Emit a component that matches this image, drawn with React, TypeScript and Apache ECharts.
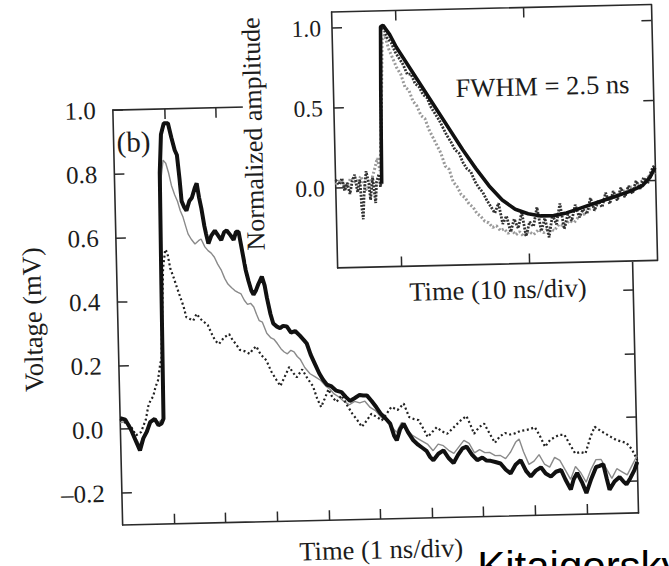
import React, { useEffect, useRef } from "react";
import * as echarts from "echarts";

// ---------- data ----------
// main panel: x in divisions (1 ns/div), y in mV
const mainXTicks = [1, 2, 3, 4, 5, 6, 7, 8, 9];
const mainYTicks = [-0.2, 0, 0.2, 0.4, 0.6, 0.8, 1.0];

const thickTrace: [number, number][] = [
  [0, 0.035], [0.1, 0.03], [0.2, 0.0], [0.3, -0.04], [0.37, -0.068], [0.44, -0.03], [0.51, -0.01], [0.58, 0.02],
  [0.67, 0.03], [0.74, 0.01], [0.8, 0.015], [0.84, 0.03], [0.86, 0.45], [0.88, 0.8], [0.92, 0.92], [0.98, 0.955],
  [1.06, 0.955], [1.12, 0.91], [1.18, 0.87], [1.22, 0.855], [1.26, 0.78], [1.29, 0.71], [1.34, 0.69], [1.38, 0.68],
  [1.44, 0.71], [1.49, 0.72], [1.55, 0.75], [1.59, 0.765], [1.63, 0.72], [1.67, 0.685], [1.72, 0.63], [1.75, 0.605],
  [1.79, 0.575], [1.85, 0.6], [1.92, 0.615], [1.98, 0.6], [2.04, 0.585], [2.1, 0.61], [2.15, 0.615], [2.22, 0.6],
  [2.28, 0.585], [2.33, 0.61], [2.38, 0.61], [2.44, 0.55], [2.5, 0.49], [2.55, 0.455], [2.6, 0.425], [2.64, 0.412],
  [2.69, 0.425], [2.74, 0.445], [2.81, 0.468], [2.86, 0.44], [2.9, 0.4], [2.96, 0.35], [3.01, 0.32], [3.08, 0.31],
  [3.14, 0.305], [3.2, 0.312], [3.27, 0.31], [3.35, 0.29], [3.43, 0.295], [3.52, 0.28], [3.6, 0.265], [3.65, 0.255],
  [3.72, 0.22], [3.8, 0.19], [3.88, 0.16], [3.95, 0.14], [4.02, 0.125], [4.1, 0.12], [4.2, 0.105], [4.3, 0.1],
  [4.38, 0.085], [4.46, 0.072], [4.55, 0.08], [4.65, 0.09], [4.72, 0.088], [4.79, 0.088], [4.88, 0.07], [4.97, 0.05],
  [5.05, 0.03], [5.14, 0.015], [5.23, -0.002], [5.3, -0.04], [5.35, -0.055], [5.42, -0.02], [5.49, -0.003], [5.57, -0.03],
  [5.67, -0.056], [5.76, -0.07], [5.84, -0.08], [5.92, -0.09], [5.99, -0.11], [6.05, -0.12], [6.15, -0.1], [6.25, -0.09],
  [6.35, -0.115], [6.44, -0.13], [6.53, -0.105], [6.62, -0.085], [6.7, -0.08], [6.8, -0.105], [6.9, -0.123], [7.0, -0.115],
  [7.08, -0.125], [7.16, -0.126], [7.25, -0.13], [7.35, -0.135], [7.45, -0.155], [7.54, -0.167], [7.64, -0.14], [7.74, -0.126],
  [7.84, -0.16], [7.93, -0.178], [8.03, -0.16], [8.13, -0.15], [8.22, -0.17], [8.32, -0.18], [8.42, -0.165], [8.52, -0.16],
  [8.6, -0.19], [8.7, -0.222], [8.76, -0.19], [8.83, -0.17], [8.92, -0.2], [9.0, -0.234], [9.1, -0.19], [9.2, -0.153],
  [9.27, -0.15], [9.34, -0.145], [9.4, -0.19], [9.45, -0.225], [9.55, -0.2], [9.65, -0.186], [9.72, -0.2], [9.78, -0.21],
  [9.86, -0.19], [9.94, -0.166], [10, -0.14],
];

const grayTrace: [number, number][] = [
  [0, 0.02], [0.1, 0.025], [0.2, 0.0], [0.3, -0.03], [0.37, -0.05], [0.45, -0.02], [0.55, 0.01], [0.65, 0.03],
  [0.75, 0.02], [0.83, 0.03], [0.86, 0.5], [0.9, 0.78], [0.95, 0.84], [1.0, 0.83], [1.05, 0.8], [1.1, 0.76],
  [1.16, 0.73], [1.21, 0.71], [1.26, 0.68], [1.31, 0.66], [1.36, 0.63], [1.4, 0.607], [1.46, 0.59], [1.53, 0.575],
  [1.6, 0.585], [1.65, 0.59], [1.72, 0.565], [1.78, 0.553], [1.84, 0.545], [1.9, 0.532], [1.96, 0.51], [2.03, 0.49],
  [2.09, 0.465], [2.15, 0.447], [2.22, 0.435], [2.28, 0.426], [2.34, 0.42], [2.4, 0.415], [2.46, 0.395], [2.52, 0.382],
  [2.58, 0.385], [2.64, 0.373], [2.69, 0.35], [2.74, 0.33], [2.8, 0.325], [2.88, 0.29], [2.96, 0.275], [3.02, 0.27],
  [3.08, 0.257], [3.15, 0.24], [3.21, 0.23], [3.27, 0.224], [3.34, 0.235], [3.4, 0.23], [3.46, 0.215], [3.52, 0.205],
  [3.6, 0.18], [3.7, 0.16], [3.8, 0.15], [3.9, 0.139], [4.0, 0.12], [4.08, 0.11], [4.15, 0.096], [4.25, 0.085],
  [4.35, 0.07], [4.45, 0.06], [4.55, 0.07], [4.65, 0.065], [4.75, 0.07], [4.85, 0.05], [4.95, 0.04], [5.05, 0.02],
  [5.15, 0.01], [5.25, -0.01], [5.35, -0.03], [5.45, 0.0], [5.55, -0.02], [5.65, -0.04], [5.75, -0.05], [5.85, -0.06],
  [5.95, -0.07], [6.05, -0.09], [6.15, -0.07], [6.25, -0.075], [6.35, -0.09], [6.45, -0.1], [6.55, -0.08], [6.65, -0.06],
  [6.75, -0.07], [6.85, -0.1], [6.95, -0.09], [7.05, -0.1], [7.15, -0.1], [7.25, -0.11], [7.35, -0.11], [7.45, -0.12],
  [7.55, -0.1], [7.65, -0.07], [7.72, -0.06], [7.8, -0.1], [7.9, -0.14], [8.0, -0.13], [8.1, -0.11], [8.2, -0.14],
  [8.3, -0.15], [8.4, -0.12], [8.5, -0.13], [8.6, -0.16], [8.7, -0.19], [8.8, -0.15], [8.9, -0.17], [9.0, -0.2],
  [9.1, -0.16], [9.2, -0.13], [9.3, -0.13], [9.4, -0.16], [9.5, -0.19], [9.6, -0.16], [9.7, -0.17], [9.8, -0.18],
  [9.9, -0.15], [10, -0.12],
];

const dottedTrace: [number, number][] = [
  [0, 0.03], [0.1, 0.02], [0.2, 0.01], [0.3, -0.02], [0.4, -0.01], [0.5, 0.03], [0.55, 0.07], [0.6, 0.09],
  [0.65, 0.1], [0.7, 0.13], [0.75, 0.15], [0.8, 0.2], [0.83, 0.22], [0.86, 0.35], [0.9, 0.5], [0.95, 0.56],
  [0.99, 0.55], [1.04, 0.5], [1.1, 0.472], [1.16, 0.44], [1.22, 0.41], [1.28, 0.38], [1.33, 0.346], [1.4, 0.34],
  [1.46, 0.335], [1.53, 0.356], [1.6, 0.34], [1.67, 0.33], [1.74, 0.32], [1.82, 0.29], [1.88, 0.27], [1.95, 0.26],
  [2.05, 0.28], [2.15, 0.29], [2.22, 0.27], [2.28, 0.258], [2.35, 0.24], [2.45, 0.235], [2.54, 0.227], [2.6, 0.24],
  [2.67, 0.25], [2.75, 0.225], [2.86, 0.205], [2.95, 0.17], [3.05, 0.142], [3.12, 0.124], [3.2, 0.15], [3.3, 0.183],
  [3.37, 0.165], [3.44, 0.15], [3.55, 0.174], [3.65, 0.145], [3.75, 0.121], [3.83, 0.08], [3.9, 0.055], [3.97, 0.08],
  [4.05, 0.11], [4.12, 0.085], [4.2, 0.07], [4.3, 0.09], [4.4, 0.06], [4.5, 0.032], [4.6, 0.01], [4.68, -0.01],
  [4.78, 0.01], [4.87, 0.03], [4.97, 0.02], [5.07, 0.009], [5.17, 0.03], [5.26, 0.05], [5.38, 0.04], [5.5, 0.06],
  [5.6, 0.017], [5.7, 0.01], [5.78, 0.007], [5.87, -0.02], [5.95, -0.047], [6.05, -0.03], [6.13, -0.017], [6.23, -0.03],
  [6.33, -0.038], [6.45, -0.02], [6.6, 0.003], [6.71, 0.016], [6.78, -0.01], [6.85, -0.04], [6.95, -0.02], [7.05, -0.009],
  [7.15, -0.04], [7.25, -0.07], [7.35, -0.05], [7.45, -0.04], [7.55, -0.045], [7.64, -0.042], [7.74, -0.035], [7.83, -0.033],
  [7.93, -0.03], [8.03, -0.024], [8.12, -0.05], [8.22, -0.086], [8.32, -0.065], [8.42, -0.056], [8.5, -0.05], [8.6, -0.05],
  [8.7, -0.08], [8.8, -0.109], [8.9, -0.105], [9.0, -0.11], [9.1, -0.06], [9.19, -0.027], [9.3, -0.04], [9.4, -0.05],
  [9.5, -0.06], [9.6, -0.07], [9.7, -0.075], [9.8, -0.08], [9.9, -0.1], [10, -0.134],
];

// inset: x in divisions (10 ns/div), y normalized amplitude
const insetXTicks = [0.5, 1.5];
const insetYTicks = [0, 0.5, 1.0];

const insetFit: [number, number][] = [
  [0.36, 0.02], [0.37, 0.6], [0.38, 1.0], [0.4, 1.01], [0.45, 0.95], [0.5, 0.87], [0.6, 0.74], [0.7, 0.61],
  [0.8, 0.48], [0.9, 0.35], [1.0, 0.22], [1.1, 0.1], [1.2, -0.01], [1.3, -0.1], [1.4, -0.16], [1.5, -0.19],
  [1.6, -0.205], [1.7, -0.205], [1.8, -0.19], [1.9, -0.165], [2.0, -0.14], [2.1, -0.115], [2.2, -0.09], [2.3, -0.065],
  [2.4, -0.03], [2.46, 0.02], [2.5, 0.08],
];

const insetBlack: [number, number][] = [
  [0.0, 0.05], [0.03, 0.02], [0.05, 0.06], [0.07, -0.02], [0.09, 0.03], [0.11, -0.04], [0.13, 0.04], [0.15, 0.08],
  [0.17, -0.03], [0.19, 0.05], [0.2, -0.12], [0.21, -0.2], [0.22, -0.05], [0.24, 0.1], [0.26, 0.02], [0.27, -0.08],
  [0.29, 0.06], [0.31, -0.1], [0.32, 0.03], [0.34, 0.08], [0.35, 0.0], [0.36, 0.05], [0.37, 0.55], [0.38, 0.97],
  [0.4, 1.0], [0.43, 0.93], [0.46, 0.9], [0.49, 0.84], [0.52, 0.8], [0.55, 0.76], [0.58, 0.7], [0.61, 0.7],
  [0.64, 0.64], [0.67, 0.62], [0.7, 0.57], [0.73, 0.55], [0.76, 0.49], [0.79, 0.45], [0.82, 0.41], [0.85, 0.36],
  [0.88, 0.31], [0.91, 0.27], [0.94, 0.22], [0.97, 0.2], [1.0, 0.14], [1.03, 0.1], [1.06, 0.08], [1.09, 0.02],
  [1.12, -0.02], [1.15, -0.05], [1.18, -0.1], [1.21, -0.14], [1.24, -0.18], [1.27, -0.12], [1.3, -0.25], [1.33, -0.2],
  [1.36, -0.3], [1.39, -0.22], [1.42, -0.28], [1.45, -0.18], [1.48, -0.33], [1.51, -0.24], [1.54, -0.27], [1.57, -0.15],
  [1.6, -0.3], [1.63, -0.22], [1.66, -0.34], [1.69, -0.2], [1.72, -0.26], [1.75, -0.13], [1.78, -0.29], [1.81, -0.2],
  [1.84, -0.24], [1.87, -0.14], [1.9, -0.22], [1.93, -0.17], [1.96, -0.2], [1.99, -0.1], [2.02, -0.18], [2.05, -0.12],
  [2.08, -0.16], [2.11, -0.07], [2.14, -0.14], [2.17, -0.06], [2.2, -0.12], [2.23, -0.04], [2.26, -0.1], [2.29, -0.03],
  [2.32, -0.08], [2.35, 0.0], [2.38, -0.05], [2.41, 0.02], [2.44, -0.02], [2.47, 0.06], [2.5, 0.1],
];

const insetGray: [number, number][] = [
  [0.0, 0.02], [0.04, 0.05], [0.08, 0.0], [0.12, 0.06], [0.16, 0.03], [0.2, 0.07], [0.24, -0.02], [0.28, 0.04],
  [0.31, 0.12], [0.33, 0.18], [0.35, 0.1], [0.37, 0.45], [0.39, 0.92], [0.41, 0.95], [0.44, 0.86], [0.47, 0.8],
  [0.5, 0.74], [0.53, 0.7], [0.56, 0.62], [0.59, 0.6], [0.62, 0.53], [0.65, 0.5], [0.68, 0.44], [0.71, 0.42],
  [0.74, 0.35], [0.77, 0.3], [0.8, 0.25], [0.83, 0.2], [0.86, 0.12], [0.89, 0.1], [0.92, 0.02], [0.95, -0.01],
  [0.98, -0.06], [1.01, -0.08], [1.04, -0.12], [1.07, -0.14], [1.1, -0.18], [1.13, -0.2], [1.16, -0.23], [1.19, -0.24],
  [1.22, -0.27], [1.25, -0.26], [1.28, -0.29], [1.31, -0.28], [1.34, -0.31], [1.37, -0.29], [1.4, -0.32], [1.43, -0.3],
  [1.46, -0.33], [1.5, -0.3], [1.54, -0.32], [1.58, -0.29], [1.62, -0.31], [1.66, -0.28], [1.7, -0.3], [1.74, -0.26],
  [1.78, -0.27], [1.82, -0.24], [1.86, -0.25], [1.9, -0.21], [1.94, -0.2], [1.98, -0.17], [2.02, -0.16], [2.06, -0.13],
  [2.1, -0.12], [2.14, -0.1], [2.18, -0.1], [2.22, -0.07], [2.26, -0.06], [2.3, -0.04], [2.34, -0.03], [2.38, -0.01],
  [2.42, 0.01], [2.46, 0.03], [2.5, 0.05],
];

// ---------- layout ----------
const OFF = 20; // chart canvas is larger than the page so the tilted scan covers it
const TILT_DEG = -1.35;
const TILT = (TILT_DEG * Math.PI) / 180;
const SERIF = "'Liberation Serif', 'Times New Roman', serif";
const INK = "#1c1c1c";

const fmt = (v: number) => (v < 0 ? "\u2013" : "") + Math.abs(v).toFixed(1);

const axisLine = { show: true, onZero: false, lineStyle: { color: "#2a2a2a", width: 1.6 } };
const tick = (vals?: number[]) => ({
  show: true,
  inside: true,
  length: 10,
  lineStyle: { color: "#2a2a2a", width: 1.5 },
  ...(vals ? { customValues: vals } : {}),
});
const nameStyle = { fontFamily: SERIF, fontSize: 26.5, color: INK };
const labelStyle = { fontFamily: SERIF, fontSize: 25, color: INK };
const insetLabelStyle = { fontFamily: SERIF, fontSize: 23.5, color: INK };

export default function App() {
  const ref = useRef<HTMLDivElement>(null);

  useEffect(() => {
    if (!ref.current) return;
    const chart = echarts.init(ref.current, null, { renderer: "svg" });
    const option: any = {
      animation: false,
      backgroundColor: "#ffffff",
      textStyle: { fontFamily: SERIF },
      grid: [
        { left: 117 + OFF, top: 105 + OFF, width: 516, height: 415 },
        { left: 338 + OFF, top: 12 + OFF, width: 319.5, height: 256 },
      ],
      xAxis: [
        {
          gridIndex: 0, type: "value", min: 0, max: 10, interval: 1,
          axisLine, axisTick: tick(mainXTicks), axisLabel: { show: false }, splitLine: { show: false },
          name: "Time (1 ns/div)", nameLocation: "middle", nameGap: 17, nameTextStyle: nameStyle,
        },
        {
          gridIndex: 0, type: "value", position: "top", min: 0, max: 10, interval: 1,
          axisLine, axisTick: tick(mainXTicks), axisLabel: { show: false }, splitLine: { show: false },
        },
        {
          gridIndex: 1, type: "value", min: 0, max: 2.5, z: 10,
          axisLine, axisTick: tick(insetXTicks), axisLabel: { show: false }, splitLine: { show: false },
          name: "Time (10 ns/div)", nameLocation: "middle", nameGap: 12, nameTextStyle: nameStyle,
        },
        {
          gridIndex: 1, type: "value", position: "top", min: 0, max: 2.5, z: 10,
          axisLine, axisTick: tick(insetXTicks), axisLabel: { show: false }, splitLine: { show: false },
        },
      ],
      yAxis: [
        {
          gridIndex: 0, type: "value", min: -0.3, max: 1.0,
          axisLine, axisTick: tick(mainYTicks),
          axisLabel: { ...labelStyle, margin: 17, customValues: mainYTicks, formatter: fmt },
          splitLine: { show: false },
          name: "Voltage (mV)", nameLocation: "middle", nameGap: 63, nameRotate: 90, nameTextStyle: nameStyle,
        },
        {
          gridIndex: 0, type: "value", position: "right", min: -0.3, max: 1.0,
          axisLine, axisTick: tick(mainYTicks), axisLabel: { show: false }, splitLine: { show: false },
        },
        {
          gridIndex: 1, type: "value", min: -0.5, max: 1.1, z: 10,
          axisLine, axisTick: tick(insetYTicks),
          axisLabel: { ...insetLabelStyle, margin: 11, customValues: insetYTicks, formatter: fmt },
          splitLine: { show: false },
        },
        {
          gridIndex: 1, type: "value", position: "right", min: -0.5, max: 1.1, z: 10,
          axisLine, axisTick: tick(insetYTicks), axisLabel: { show: false }, splitLine: { show: false },
        },
      ],
      series: [
        {
          name: "gray", type: "line", xAxisIndex: 0, yAxisIndex: 0, data: grayTrace, showSymbol: false,
          z: 2, lineStyle: { color: "#8a8a8a", width: 1.4 },
        },
        {
          name: "dotted", type: "line", xAxisIndex: 0, yAxisIndex: 0, data: dottedTrace, showSymbol: false,
          z: 2, lineStyle: { color: "#222", width: 2.2, type: [2, 2.6] },
        },
        {
          name: "thick", type: "line", xAxisIndex: 0, yAxisIndex: 0, data: thickTrace, showSymbol: false,
          z: 3, lineStyle: { color: "#111", width: 4 },
        },
        {
          name: "insetGray", type: "line", xAxisIndex: 2, yAxisIndex: 2, data: insetGray, showSymbol: false,
          z: 12, lineStyle: { color: "#9a9a9a", width: 3, type: [2, 2] },
        },
        {
          name: "insetBlack", type: "line", xAxisIndex: 2, yAxisIndex: 2, data: insetBlack, showSymbol: false,
          z: 12, lineStyle: { color: "#333", width: 2.8, type: [2, 1.4] },
        },
        {
          name: "insetFit", type: "line", xAxisIndex: 2, yAxisIndex: 2, data: insetFit, showSymbol: false,
          z: 13, lineStyle: { color: "#111", width: 3.6 },
        },
      ],
      graphic: [
        { type: "rect", z: 5, silent: true, shape: { x: 247 + OFF, y: 0, width: 95, height: 262 + OFF }, style: { fill: "#fff" } },
        { type: "rect", z: 5, silent: true, shape: { x: 338 + OFF, y: 0, width: 420, height: 269 + OFF }, style: { fill: "#fff" } },
        {
          type: "text", z: 6, x: 120 + OFF, y: 137 + OFF,
          style: { text: "(b)", fontFamily: SERIF, fontSize: 29, fill: INK, align: "left", verticalAlign: "middle" },
        },
        {
          type: "text", z: 11, x: 257 + OFF, y: 132 + OFF, rotation: Math.PI / 2,
          style: { text: "Normalized amplitude", fontFamily: SERIF, fontSize: 26, fill: INK, align: "center", verticalAlign: "middle" },
        },
        {
          type: "text", z: 11, x: 460 + OFF, y: 91 + OFF,
          style: { text: "FWHM = 2.5 ns", fontFamily: SERIF, fontSize: 26.5, fill: INK, align: "left", verticalAlign: "middle" },
        },
        {
          type: "text", z: 20, x: 471 + OFF, y: 549 + OFF, rotation: TILT,
          style: { text: "Kitaigorsky", fontFamily: "'Liberation Sans', Arial, sans-serif", fontSize: 42, fill: "#000", align: "left", verticalAlign: "top" },
        },
      ],
    };
    chart.setOption(option);
    return () => chart.dispose();
  }, []);

  return (
    <div style={{ position: "fixed", left: 0, top: 0, width: 669, height: 566, overflow: "hidden", background: "#fff" }}>
      <div
        ref={ref}
        style={{
          position: "absolute",
          left: -OFF,
          top: -OFF,
          width: 669 + 2 * OFF,
          height: 566 + 2 * OFF,
          transform: `rotate(${TILT_DEG}deg)`,
          transformOrigin: "50% 50%",
        }}
      />
    </div>
  );
}
